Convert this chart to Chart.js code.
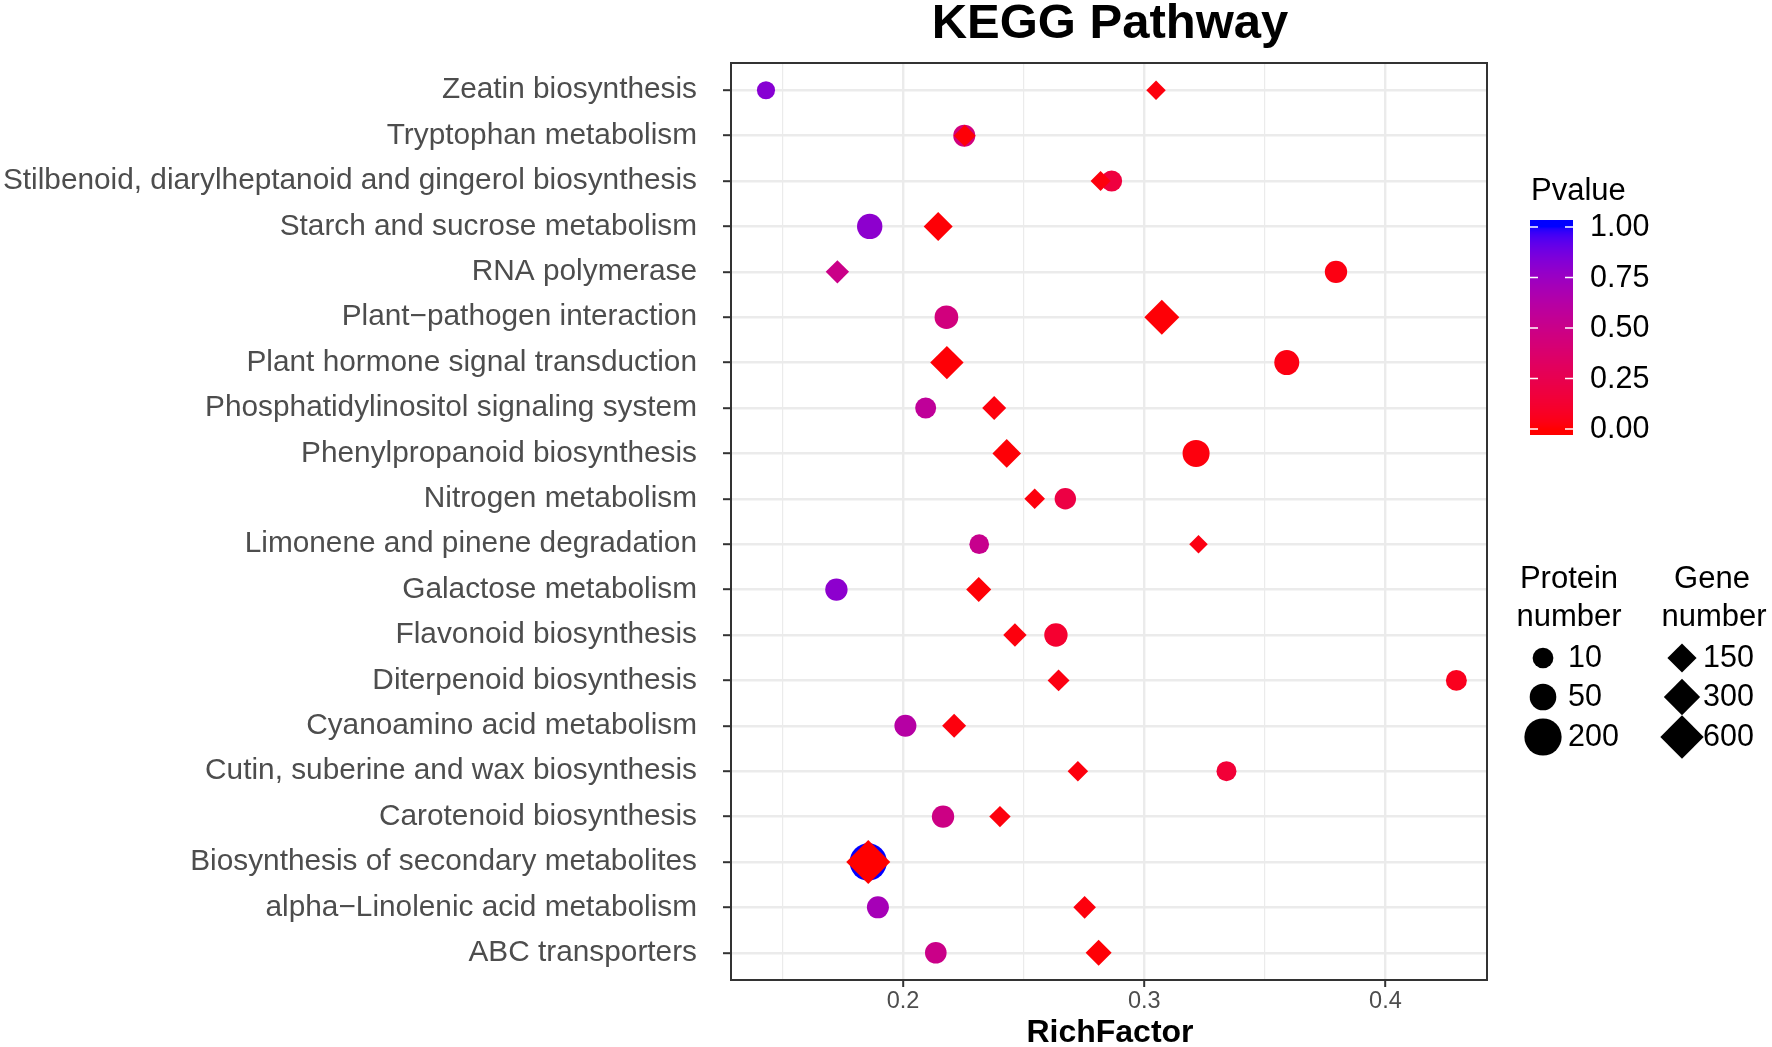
<!DOCTYPE html>
<html>
<head>
<meta charset="utf-8">
<script src="https://cdn.jsdelivr.net/npm/chart.js@4.4.0/dist/chart.umd.min.js"></script>
<style>
html,body{margin:0;padding:0;background:#ffffff;}
#wrap{width:1772px;height:1047px;position:relative;overflow:hidden;}
canvas{display:block;}
</style>
</head>
<body>
<div id="wrap"><canvas id="c" width="1772" height="1047"></canvas></div>
<script>
// ---------------- DATA ----------------
const pathways = [
  "Zeatin biosynthesis",
  "Tryptophan metabolism",
  "Stilbenoid, diarylheptanoid and gingerol biosynthesis",
  "Starch and sucrose metabolism",
  "RNA polymerase",
  "Plant\u2212pathogen interaction",
  "Plant hormone signal transduction",
  "Phosphatidylinositol signaling system",
  "Phenylpropanoid biosynthesis",
  "Nitrogen metabolism",
  "Limonene and pinene degradation",
  "Galactose metabolism",
  "Flavonoid biosynthesis",
  "Diterpenoid biosynthesis",
  "Cyanoamino acid metabolism",
  "Cutin, suberine and wax biosynthesis",
  "Carotenoid biosynthesis",
  "Biosynthesis of secondary metabolites",
  "alpha\u2212Linolenic acid metabolism",
  "ABC transporters"
];
// Protein (circles)
const proteinRich  = [0.1432,0.2254,0.2865,0.1862,0.3795,0.2180,0.3591,0.2094,0.3215,0.2673,0.2316,0.1724,0.2634,0.4294,0.2010,0.3341,0.2166,0.1856,0.1896,0.2136];
const proteinCount = [2,16,11,39,18,26,36,11,54,13,6,18,24,11,16,7,18,200,16,14];
const proteinP     = [0.82,0.45,0.18,0.80,0.03,0.45,0.03,0.57,0.02,0.20,0.52,0.80,0.12,0.06,0.62,0.15,0.48,1.00,0.70,0.50];
// Gene (diamonds)
const geneRich  = [0.3049,0.2256,0.2819,0.2146,0.1728,0.3073,0.2182,0.2378,0.2430,0.2546,0.3225,0.2314,0.2464,0.2645,0.2212,0.2725,0.2402,0.1856,0.2753,0.2811];
const geneCount = [58,74,61,147,85,264,226,90,141,65,53,100,85,74,90,64,70,636,79,110];
const geneP     = [0.02,0.01,0.02,0.01,0.50,0.01,0.01,0.02,0.01,0.02,0.03,0.01,0.02,0.03,0.02,0.02,0.02,0.00,0.02,0.01];
// Axis / legend breaks
const xMajorTicks = [0.2, 0.3, 0.4];
const xMinorTicks = [0.15, 0.25, 0.35];
const pvalueBreaks = [0, 0.25, 0.5, 0.75, 1];
const proteinBreaks = [10, 50, 200];
const geneBreaks = [150, 300, 600];

// ---------------- HELPERS ----------------
const FONT = "'Liberation Sans', Arial, Helvetica, sans-serif";
const N = pathways.length;

function s2l(c){c/=255;return c<=0.04045?c/12.92:Math.pow((c+0.055)/1.055,2.4);}
function l2s(v){v=Math.max(0,Math.min(1,v));const s=v<=0.0031308?12.92*v:1.055*Math.pow(v,1/2.4)-0.055;return Math.round(s*255);}
const Xn=0.95047,Yn=1,Zn=1.08883;
function fLab(t){return t>0.008856?Math.cbrt(t):7.787*t+16/116;}
function fInv(t){const t3=t*t*t;return t3>0.008856?t3:(t-16/116)/7.787;}
function rgb2lab(rgb){
  const r=s2l(rgb[0]),g=s2l(rgb[1]),b=s2l(rgb[2]);
  const X=(0.4124*r+0.3576*g+0.1805*b)/Xn, Y=(0.2126*r+0.7152*g+0.0722*b)/Yn, Z=(0.0193*r+0.1192*g+0.9505*b)/Zn;
  const fx=fLab(X),fy=fLab(Y),fz=fLab(Z);
  return [116*fy-16,500*(fx-fy),200*(fy-fz)];
}
function lab2rgb(lab){
  const fy=(lab[0]+16)/116,fx=fy+lab[1]/500,fz=fy-lab[2]/200;
  const X=Xn*fInv(fx),Y=Yn*fInv(fy),Z=Zn*fInv(fz);
  const r=3.2406*X-1.5372*Y-0.4986*Z, g=-0.9689*X+1.8758*Y+0.0415*Z, b=0.0557*X-0.2040*Y+1.0570*Z;
  return [l2s(r),l2s(g),l2s(b)];
}
const LOW=rgb2lab([255,0,0]), HIGH=rgb2lab([0,0,255]);
function pColor(p){
  const t=Math.max(0,Math.min(1,p));
  const c=lab2rgb([LOW[0]+(HIGH[0]-LOW[0])*t,LOW[1]+(HIGH[1]-LOW[1])*t,LOW[2]+(HIGH[2]-LOW[2])*t]);
  return 'rgb('+c[0]+','+c[1]+','+c[2]+')';
}
function proteinRadius(n){return 8+0.75*Math.sqrt(n);}
function geneRadius(n){return 14.6+3.55*Math.log2(n/150);}
function isMajor(v){return xMajorTicks.some(m=>Math.abs(m-v)<1e-9);}

const proteinData = pathways.map((p,i)=>({x:proteinRich[i], y:N-i, n:proteinCount[i], p:proteinP[i]}));
const geneData = pathways.map((p,i)=>({x:geneRich[i], y:N-i, n:geneCount[i], p:geneP[i]}));

// ---------------- DECORATION PLUGIN ----------------
const decor = {
  id:'decor',
  afterDraw(chart){
    const ctx=chart.ctx, a=chart.chartArea;
    ctx.save();
    // panel border
    ctx.strokeStyle='#333333'; ctx.lineWidth=2;
    ctx.strokeRect(a.left, a.top, a.right-a.left, a.bottom-a.top);
    const cx=(a.left+a.right)/2;
    // title
    ctx.fillStyle='#000000'; ctx.textAlign='center'; ctx.textBaseline='alphabetic';
    ctx.font='bold 49px '+FONT;
    ctx.fillText('KEGG Pathway', cx+1, 38);
    // x axis title
    ctx.font='bold 32px '+FONT;
    ctx.fillText('RichFactor', cx+1, 1042);

    // Pvalue colourbar legend
    ctx.textAlign='left';
    ctx.font='31px '+FONT;
    ctx.fillText('Pvalue', 1531, 200);
    const barL=1530, barR=1573, barT=220, barB=435, y0=429, y1=227;
    for(let y=barT;y<barB;y++){
      ctx.fillStyle=pColor((y0-(y+0.5))/(y0-y1));
      ctx.fillRect(barL,y,barR-barL,1);
    }
    ctx.strokeStyle='#ffffff'; ctx.lineWidth=1.5;
    ctx.fillStyle='#000000'; ctx.textBaseline='middle'; ctx.font='30.5px '+FONT;
    pvalueBreaks.forEach(b=>{
      const yb=y0-b*(y0-y1);
      ctx.beginPath(); ctx.moveTo(barL,yb); ctx.lineTo(barL+8,yb);
      ctx.moveTo(barR-8,yb); ctx.lineTo(barR,yb); ctx.stroke();
      ctx.fillText(b.toFixed(2), 1590, yb+1);
    });

    // size legends
    ctx.textAlign='center'; ctx.textBaseline='alphabetic'; ctx.font='31px '+FONT;
    ctx.fillText('Protein', 1569, 588); ctx.fillText('number', 1569, 626);
    ctx.fillText('Gene', 1712, 588); ctx.fillText('number', 1714, 626);
    const keyY=[658,697,737];
    ctx.textAlign='left'; ctx.textBaseline='middle'; ctx.font='30.5px '+FONT;
    proteinBreaks.forEach((v,i)=>{
      ctx.fillStyle='#000000';
      ctx.beginPath(); ctx.arc(1543,keyY[i],proteinRadius(v),0,Math.PI*2); ctx.fill();
      ctx.fillText(String(v),1568,keyY[i]+1);
    });
    geneBreaks.forEach((v,i)=>{
      const r=geneRadius(v), x=1682, y=keyY[i];
      ctx.fillStyle='#000000';
      ctx.beginPath(); ctx.moveTo(x-r,y); ctx.lineTo(x,y-r); ctx.lineTo(x+r,y); ctx.lineTo(x,y+r); ctx.closePath(); ctx.fill();
      ctx.fillText(String(v),1703,y+1);
    });
    ctx.restore();
  }
};

// ---------------- CHART ----------------
new Chart(document.getElementById('c'), {
  type:'scatter',
  data:{
    datasets:[
      {
        label:'Gene number',
        data:geneData,
        order:0,
        pointStyle:'rectRot',
        pointRadius:ctx=>ctx.raw?geneRadius(ctx.raw.n):5,
        pointHoverRadius:ctx=>ctx.raw?geneRadius(ctx.raw.n):5,
        pointBackgroundColor:ctx=>ctx.raw?pColor(ctx.raw.p):'#f00',
        pointBorderWidth:0,
        showLine:false
      },
      {
        label:'Protein number',
        data:proteinData,
        order:1,
        pointStyle:'circle',
        pointRadius:ctx=>ctx.raw?proteinRadius(ctx.raw.n):5,
        pointHoverRadius:ctx=>ctx.raw?proteinRadius(ctx.raw.n):5,
        pointBackgroundColor:ctx=>ctx.raw?pColor(ctx.raw.p):'#f00',
        pointBorderWidth:0,
        showLine:false
      }
    ]
  },
  options:{
    responsive:false,
    devicePixelRatio:1,
    animation:false,
    events:[],
    layout:{padding:{top:63,right:285,bottom:0,left:0}},
    plugins:{legend:{display:false},tooltip:{enabled:false},title:{display:false}},
    scales:{
      x:{
        type:'linear', min:0.1287, max:0.4421,
        afterBuildTicks:s=>{ s.ticks=[...xMinorTicks,...xMajorTicks].sort((a,b)=>a-b).map(v=>({value:v})); },
        afterFit:s=>{ s.height=67; },
        ticks:{
          callback:v=>isMajor(v)?v.toFixed(1):'',
          font:{family:FONT,size:23.5}, color:'#4D4D4D', padding:0, maxRotation:0, autoSkip:false
        },
        grid:{
          color:'#EBEBEB',
          lineWidth:c=>(c.tick&&isMajor(c.tick.value))?2.4:1.2,
          tickColor:c=>(c.tick&&isMajor(c.tick.value))?'#333333':'rgba(0,0,0,0)',
          tickLength:7, tickWidth:2
        },
        border:{display:false}
      },
      y:{
        type:'linear', min:0.4, max:20.6,
        afterBuildTicks:s=>{ s.ticks=pathways.map((_,i)=>({value:i+1})); },
        afterFit:s=>{ s.width=731; },
        ticks:{
          callback:v=>pathways[N-v],
          font:{family:FONT,size:29.8}, color:'#4D4D4D', padding:26, autoSkip:false
        },
        grid:{color:'#EBEBEB', lineWidth:2.4, tickColor:'#333333', tickLength:8, tickWidth:2},
        border:{display:false}
      }
    }
  },
  plugins:[decor]
});
</script>
</body>
</html>
